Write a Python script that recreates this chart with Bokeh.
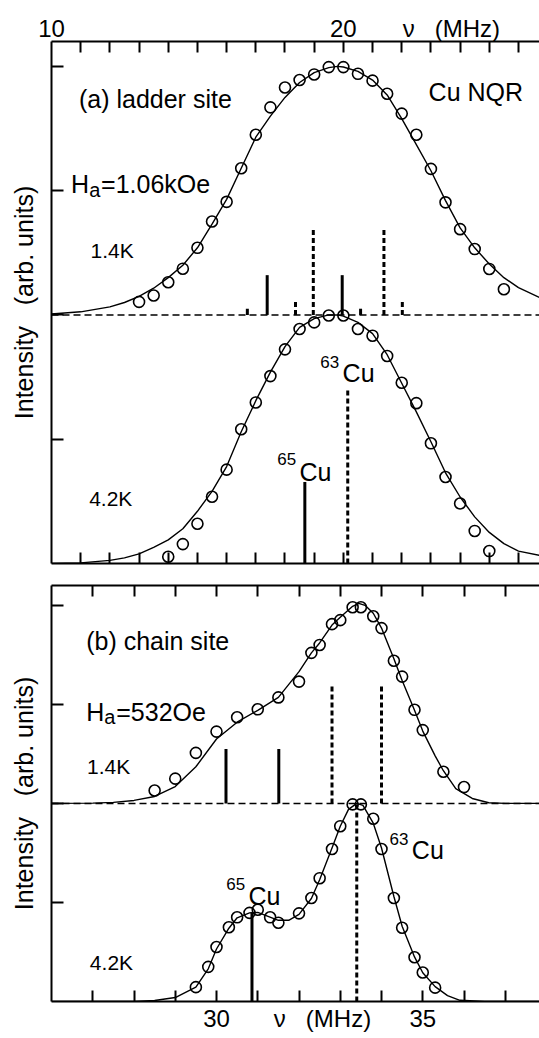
from bokeh.plotting import figure
from bokeh.models import Range1d, LinearAxis, FixedTicker, Label, Span
from bokeh.layouts import column
from bokeh.embed import file_html
from bokeh.resources import INLINE

FONT = "Liberation Sans"
NU_LABEL = "\u03bd\u00a0\u00a0\u00a0(MHz)"

# ---------------- panel (a): ladder site ----------------
a_xlim = (10.0, 26.72)
a_top_ticks = [10, 20]
a_top_unit_pos = 23.7
a_minor = [11, 12, 13, 14, 15, 16, 17, 18, 19, 20, 21, 22, 23, 24, 25, 26]
y_minor = [1, 2, 3, 4]

# 1.4 K spectrum (offset by 2)
a14_x = [13.0, 13.5, 14.0, 14.5, 15.0, 15.5, 16.0, 16.5, 17.0, 17.5, 18.0, 18.5, 19.0,
         19.5, 20.0, 20.5, 21.0, 21.5, 22.0, 22.5, 23.0, 23.5, 24.0, 24.5, 25.0, 25.5]
a14_y = [2.105, 2.156, 2.263, 2.372, 2.54, 2.752, 2.91, 3.18, 3.45, 3.67, 3.83, 3.89, 3.935,
         3.994, 3.994, 3.94, 3.885, 3.78, 3.62, 3.45, 3.175, 2.906, 2.69, 2.53, 2.37, 2.207]
a14_fit_x = [10, 11, 12, 12.5, 13, 13.5, 14, 14.5, 15, 15.5, 16, 16.5, 17, 17.5, 18, 18.5,
             19, 19.5, 19.8, 20, 20.5, 21, 21.5, 22, 22.5, 23, 23.5, 24, 24.5, 25, 25.5,
             26, 26.72]
a14_fit_y = [2.008, 2.025, 2.065, 2.10, 2.15, 2.215, 2.30, 2.40, 2.54, 2.73, 2.93, 3.18,
             3.43, 3.60, 3.75, 3.87, 3.95, 3.99, 4.0, 3.995, 3.96, 3.89, 3.77, 3.58, 3.37,
             3.16, 2.92, 2.70, 2.54, 2.41, 2.30, 2.22, 2.14]
a14_solid_x = [16.71, 17.39, 19.96, 20.59]
a14_solid_top = [2.05, 2.32, 2.32, 2.05]
a14_dash_x = [18.36, 18.97, 21.39, 22.02]
a14_dash_top = [2.107, 2.685, 2.685, 2.107]

# 4.2 K spectrum
a42_x = [14.0, 14.5, 15.0, 15.5, 16.0, 16.5, 17.0, 17.5, 18.0, 18.5, 19.0, 19.5, 20.0,
         20.5, 21.0, 21.5, 22.0, 22.5, 23.0, 23.5, 24.0, 24.5, 25.0]
a42_y = [0.054, 0.156, 0.32, 0.537, 0.755, 1.08, 1.296, 1.508, 1.723, 1.887, 1.94, 1.995,
         1.995, 1.887, 1.833, 1.67, 1.454, 1.29, 0.967, 0.696, 0.483, 0.262, 0.10]
a42_fit_x = [10, 11, 12, 12.5, 13, 13.5, 14, 14.5, 15, 15.5, 16, 16.5, 17, 17.5, 18, 18.5,
             19, 19.5, 19.8, 20, 20.5, 21, 21.5, 22, 22.5, 23, 23.5, 24, 24.5, 25, 25.5,
             26, 26.72]
a42_fit_y = [0.0, 0.005, 0.025, 0.045, 0.078, 0.13, 0.19, 0.28, 0.42, 0.58, 0.78, 1.06,
             1.31, 1.54, 1.745, 1.90, 1.97, 2.0, 2.0, 1.99, 1.94, 1.85, 1.68, 1.45, 1.22,
             0.98, 0.73, 0.535, 0.375, 0.25, 0.16, 0.10, 0.065]
a42_solid_x = [18.68]
a42_solid_top = [0.656]
a42_dash_x = [20.15]
a42_dash_top = [1.417]

# ---------------- panel (b): chain site ----------------
b_xlim = (26.0, 37.83)
b_bot_ticks = [30, 35]
b_bot_unit_pos = 32.57
b_minor = [27, 28, 29, 30, 31, 32, 33, 34, 35, 36, 37]

b14_x = [28.5, 29.0, 29.5, 30.0, 30.5, 31.0, 31.5, 32.0, 32.3, 32.5, 32.8, 33.0, 33.3,
         33.5, 33.8, 34.0, 34.3, 34.5, 34.8, 35.0, 35.5, 36.0]
b14_y = [2.13, 2.25, 2.51, 2.725, 2.87, 2.95, 3.07, 3.23, 3.52, 3.60, 3.81, 3.85, 3.98,
         3.98, 3.89, 3.77, 3.44, 3.28, 2.945, 2.74, 2.32, 2.165]
b14_fit_x = [26, 27, 27.5, 28, 28.5, 29, 29.5, 30, 30.5, 31, 31.5, 32, 32.3, 32.5, 32.8,
             33, 33.3, 33.45, 33.6, 33.8, 34, 34.3, 34.5, 34.8, 35, 35.3, 35.5, 35.8,
             36.2, 36.6, 37, 37.83]
b14_fit_y = [2.0, 2.003, 2.01, 2.03, 2.07, 2.17, 2.37, 2.65, 2.82, 2.94, 3.07, 3.33, 3.52,
             3.62, 3.80, 3.88, 3.99, 4.02, 4.0, 3.92, 3.77, 3.46, 3.24, 2.94, 2.73, 2.48,
             2.33, 2.15, 2.05, 2.007, 2.0, 2.0]
b14_solid_x = [30.23, 31.51]
b14_solid_top = [2.55, 2.55]
b14_dash_x = [32.80, 34.0]
b14_dash_top = [3.21, 3.21]

b42_x = [29.5, 29.8, 30.0, 30.3, 30.5, 30.8, 31.0, 31.3, 31.5, 32.0, 32.3, 32.5, 32.8,
         33.0, 33.3, 33.5, 33.8, 34.0, 34.3, 34.5, 34.8, 35.0, 35.3]
b42_y = [0.145, 0.35, 0.55, 0.75, 0.85, 0.895, 0.926, 0.85, 0.795, 0.89, 1.045, 1.245,
         1.54, 1.77, 1.99, 1.99, 1.845, 1.54, 1.045, 0.745, 0.447, 0.293, 0.14]
b42_fit_x = [26, 27, 28, 28.5, 29, 29.5, 29.8, 30, 30.3, 30.5, 30.8, 31.0, 31.25, 31.5,
             31.75, 32.0, 32.3, 32.5, 32.8, 33.0, 33.2, 33.4, 33.55, 33.8, 34.0, 34.3,
             34.5, 34.8, 35.0, 35.3, 35.6, 35.9, 36.5, 37.83]
b42_fit_y = [0.0, 0.0, 0.0, 0.01, 0.04, 0.145, 0.33, 0.53, 0.74, 0.845, 0.895, 0.90, 0.86,
             0.82, 0.82, 0.88, 1.04, 1.23, 1.55, 1.77, 1.94, 2.0, 1.98, 1.80, 1.55, 1.06,
             0.76, 0.45, 0.29, 0.15, 0.06, 0.012, 0.0, 0.0]
b42_solid_x = [30.86]
b42_solid_top = [0.90]
b42_dash_x = [33.40]
b42_dash_top = [2.0]


def lab(p, x, y, text, size, font=FONT, style="normal"):
    p.add_layout(Label(x=x, y=y, text=text, text_font=font, text_font_size=f"{size}px",
                       text_font_style=style, text_align="left",
                       text_baseline="alphabetic", text_color="black"))


def make_panel(xlim, height, top_border, bottom_border, top_ticks, top_minor,
               bot_ticks, bot_minor, overrides_top, overrides_bot):
    p = figure(width=539, height=height, output_backend="svg", toolbar_location=None,
               x_axis_location=None, y_axis_location=None,
               x_range=Range1d(*xlim), y_range=Range1d(0, 4.2),
               min_border_left=51, min_border_right=0,
               min_border_top=top_border, min_border_bottom=bottom_border)
    p.outline_line_color = None
    p.background_fill_color = "white"
    p.border_fill_color = "white"
    p.xgrid.visible = False
    p.ygrid.visible = False

    common = dict(axis_line_width=2, axis_line_color="black",
                  major_tick_in=0, major_tick_out=0, minor_tick_in=11, minor_tick_out=0,
                  minor_tick_line_width=2,
                  major_label_text_font=FONT, major_label_text_font_size="24px",
                  major_label_text_color="black")
    top = LinearAxis(ticker=FixedTicker(ticks=top_ticks, minor_ticks=top_minor),
                     major_label_standoff=0, major_label_overrides=overrides_top, **common)
    bot = LinearAxis(ticker=FixedTicker(ticks=bot_ticks, minor_ticks=bot_minor),
                     major_label_standoff=3, major_label_overrides=overrides_bot, **common)
    left = LinearAxis(ticker=FixedTicker(ticks=[], minor_ticks=y_minor),
                      axis_line_width=2, minor_tick_in=12, minor_tick_out=0,
                      minor_tick_line_width=2, major_label_standoff=0,
                      axis_label="Intensity\u00a0\u00a0 (arb. units)",
                      axis_label_text_font=FONT, axis_label_text_font_size="25px",
                      axis_label_text_font_style="normal", axis_label_standoff=14,
                      axis_label_text_color="black")
    p.add_layout(top, "above")
    p.add_layout(bot, "below")
    p.add_layout(left, "left")
    p.add_layout(Span(location=2.0, dimension="width", line_color="black",
                      line_width=1.5, line_dash="7 4"))
    return p


def spectrum(p, fx, fy, px, py, sx, stop, dx, dtop, base):
    p.line(fx, fy, line_color="black", line_width=1.4)
    p.segment(x0=sx, y0=[base] * len(sx), x1=sx, y1=stop, line_color="black",
              line_width=3)
    p.segment(x0=dx, y0=[base] * len(dx), x1=dx, y1=dtop, line_color="black",
              line_width=3, line_dash="5 3")
    p.scatter(px, py, marker="circle", size=11, fill_color=None, line_color="black",
              line_width=1.6)


# ---- panel (a)
pa = make_panel(a_xlim, 574, 41, 11, a_top_ticks + [a_top_unit_pos], a_minor, [], a_minor,
                {a_top_unit_pos: NU_LABEL}, {})
spectrum(pa, a14_fit_x, a14_fit_y, a14_x, a14_y, a14_solid_x, a14_solid_top,
         a14_dash_x, a14_dash_top, 2.0)
spectrum(pa, a42_fit_x, a42_fit_y, a42_x, a42_y, a42_solid_x, a42_solid_top,
         a42_dash_x, a42_dash_top, 0.0)
lab(pa, 10.94, 3.74, "(a) ladder site", 25)
lab(pa, 22.92, 3.79, "Cu NQR", 25)
lab(pa, 10.67, 3.05, "H", 25)
lab(pa, 11.29, 3.005, "a", 20)
lab(pa, 11.70, 3.05, "=1.06kOe", 25)
lab(pa, 11.34, 2.52, "1.4K", 21)
lab(pa, 11.29, 0.527, "4.2K", 21)
lab(pa, 17.735, 0.844, "65", 17)
lab(pa, 18.499, 0.736, "Cu", 25)
lab(pa, 19.208, 1.623, "63", 17)
lab(pa, 19.973, 1.535, "Cu", 25)

# ---- panel (b)
pb = make_panel(b_xlim, 464, 11, 37, [], b_minor, b_bot_ticks + [b_bot_unit_pos], b_minor,
                {}, {b_bot_unit_pos: NU_LABEL})
spectrum(pb, b14_fit_x, b14_fit_y, b14_x, b14_y, b14_solid_x, b14_solid_top,
         b14_dash_x, b14_dash_top, 2.0)
spectrum(pb, b42_fit_x, b42_fit_y, b42_x, b42_y, b42_solid_x, b42_solid_top,
         b42_dash_x, b42_dash_top, 0.0)
lab(pb, 26.84, 3.64, "(b) chain site", 25)
lab(pb, 26.84, 2.92, "H", 25)
lab(pb, 27.28, 2.87, "a", 20)
lab(pb, 27.57, 2.92, "=532Oe", 25)
lab(pb, 26.86, 2.37, "1.4K", 21)
lab(pb, 26.93, 0.397, "4.2K", 21)
lab(pb, 30.235, 1.189, "65", 17)
lab(pb, 30.776, 1.07, "Cu", 25)
lab(pb, 34.194, 1.643, "63", 17)
lab(pb, 34.735, 1.525, "Cu", 25)

layout = column(pa, pb, spacing=0)
open("out.html", "w").write(file_html(layout, INLINE))
